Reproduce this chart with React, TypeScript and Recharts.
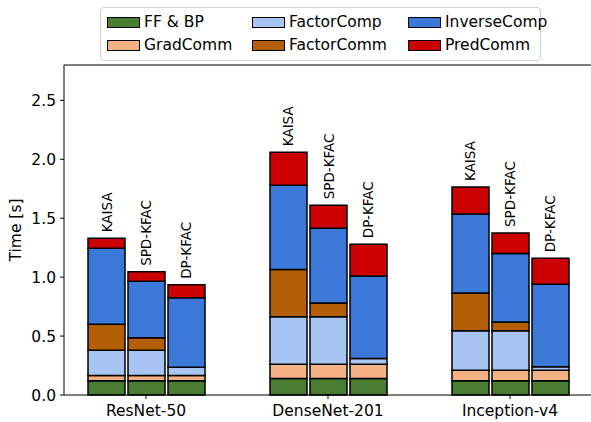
import React from 'react';
import { BarChart, Bar, XAxis, YAxis, ReferenceLine, LabelList } from 'recharts';

const models = ['ResNet-50', 'DenseNet-201', 'Inception-v4'];
const methods = ['KAISA', 'SPD-KFAC', 'DP-KFAC'];
const yTicks = [0, 0.5, 1.0, 1.5, 2.0, 2.5];

// per-method time breakdown (seconds), one value per model
const ffBp = {
  'KAISA': [0.12, 0.14, 0.12],
  'SPD-KFAC': [0.12, 0.14, 0.12],
  'DP-KFAC': [0.12, 0.14, 0.12],
};
const gradComm = {
  'KAISA': [0.045, 0.12, 0.09],
  'SPD-KFAC': [0.045, 0.12, 0.09],
  'DP-KFAC': [0.045, 0.12, 0.09],
};
const factorComp = {
  'KAISA': [0.215, 0.405, 0.335],
  'SPD-KFAC': [0.215, 0.405, 0.335],
  'DP-KFAC': [0.07, 0.05, 0.03],
};
const factorComm = {
  'KAISA': [0.22, 0.40, 0.32],
  'SPD-KFAC': [0.105, 0.115, 0.075],
  'DP-KFAC': [0, 0, 0],
};
const inverseComp = {
  'KAISA': [0.645, 0.715, 0.67],
  'SPD-KFAC': [0.48, 0.635, 0.58],
  'DP-KFAC': [0.59, 0.70, 0.70],
};
const predComm = {
  'KAISA': [0.085, 0.28, 0.23],
  'SPD-KFAC': [0.08, 0.195, 0.175],
  'DP-KFAC': [0.11, 0.27, 0.22],
};

const segments = [
  { key: 'ff', name: 'FF & BP', values: ffBp, color: '#4a7d31' },
  { key: 'grad', name: 'GradComm', values: gradComm, color: '#f4b183' },
  { key: 'fcomp', name: 'FactorComp', values: factorComp, color: '#a8c4f2' },
  { key: 'fcomm', name: 'FactorComm', values: factorComm, color: '#b45f06' },
  { key: 'inv', name: 'InverseComp', values: inverseComp, color: '#3c78d8' },
  { key: 'pred', name: 'PredComm', values: predComm, color: '#cc0000' },
];

const data = models.map((name, i) => {
  const row: Record<string, string | number> = { name };
  methods.forEach((m) => {
    segments.forEach((s) => {
      row[`${m}_${s.key}`] = s.values[m][i];
    });
  });
  return row;
});

const FONT = '"DejaVu Sans", sans-serif';

// legend laid out in matplotlib's column order: 3 columns x 2 rows
const legendColumns = [
  [segments[0], segments[1]],
  [segments[2], segments[3]],
  [segments[4], segments[5]],
];
const columnLeft = [6, 151, 307];

const ChartLegend = () => (
  <div
    style={{
      position: 'absolute',
      left: 100,
      top: 7,
      width: 441,
      height: 54,
      boxSizing: 'border-box',
      border: '1px solid #d0d0d0',
      borderRadius: 4,
      background: 'rgba(255,255,255,0.8)',
      fontFamily: FONT,
      fontSize: 15.5,
      color: '#000',
    }}
  >
    {legendColumns.map((col, ci) =>
      col.map((s, ri) => (
        <div
          key={s.key}
          style={{
            position: 'absolute',
            left: columnLeft[ci],
            top: ri === 0 ? 4 : 27,
            height: 20,
            display: 'flex',
            alignItems: 'center',
            whiteSpace: 'nowrap',
          }}
        >
          <span
            style={{
              display: 'inline-block',
              width: 31,
              height: 9,
              background: s.color,
              border: '1px solid #000',
              marginRight: 4,
            }}
          />
          {s.name}
        </div>
      ))
    )}
  </div>
);

const methodLabel = (method: string) => (props: any) => {
  const { x, y, width } = props;
  const cx = Number(x) + Number(width) / 2;
  const cy = Number(y) - 6;
  return (
    <text
      x={cx}
      y={cy}
      transform={`rotate(-90 ${cx} ${cy})`}
      textAnchor="start"
      dominantBaseline="central"
      fontSize={13.5}
      fontFamily={FONT}
      fill="#000"
    >
      {method}
    </text>
  );
};

const yLabel = () => (
  <text
    x={16}
    y={230}
    transform="rotate(-90 16 230)"
    textAnchor="middle"
    dominantBaseline="central"
    fontSize={15.5}
    fontFamily={FONT}
    fill="#000"
  >
    Time [s]
  </text>
);

export default function App() {
  return (
    <div style={{ position: 'absolute', left: 0, top: 0, width: 591, height: 422, background: '#fff' }}>
      <BarChart
        width={591}
        height={422}
        data={data}
        margin={{ top: 65, right: 0, bottom: 0, left: 0 }}
        barSize={37}
        barGap={3}
      >
        <XAxis
          dataKey="name"
          height={27}
          padding={{ left: -9, right: -10 }}
          tickSize={4}
          tickMargin={6}
          stroke="#000"
          tick={{ fill: '#000', fontSize: 15.5, fontFamily: FONT }}
        />
        <YAxis
          width={64}
          domain={[0, 2.8]}
          ticks={yTicks}
          tickFormatter={(v: number) => v.toFixed(1)}
          tickSize={4}
          tickMargin={4}
          stroke="#000"
          tick={{ fill: '#000', fontSize: 15.5, fontFamily: FONT }}
          label={yLabel}
        />
        <ReferenceLine y={2.8} stroke="#000" />
        {methods.map((m) =>
          segments.map((s) => (
            <Bar
              key={`${m}_${s.key}`}
              dataKey={`${m}_${s.key}`}
              stackId={m}
              fill={s.color}
              stroke="#000"
              strokeWidth={1.5}
              isAnimationActive={false}
            >
              {s.key === 'pred' && <LabelList content={methodLabel(m)} />}
            </Bar>
          ))
        )}
      </BarChart>
      <ChartLegend />
    </div>
  );
}
